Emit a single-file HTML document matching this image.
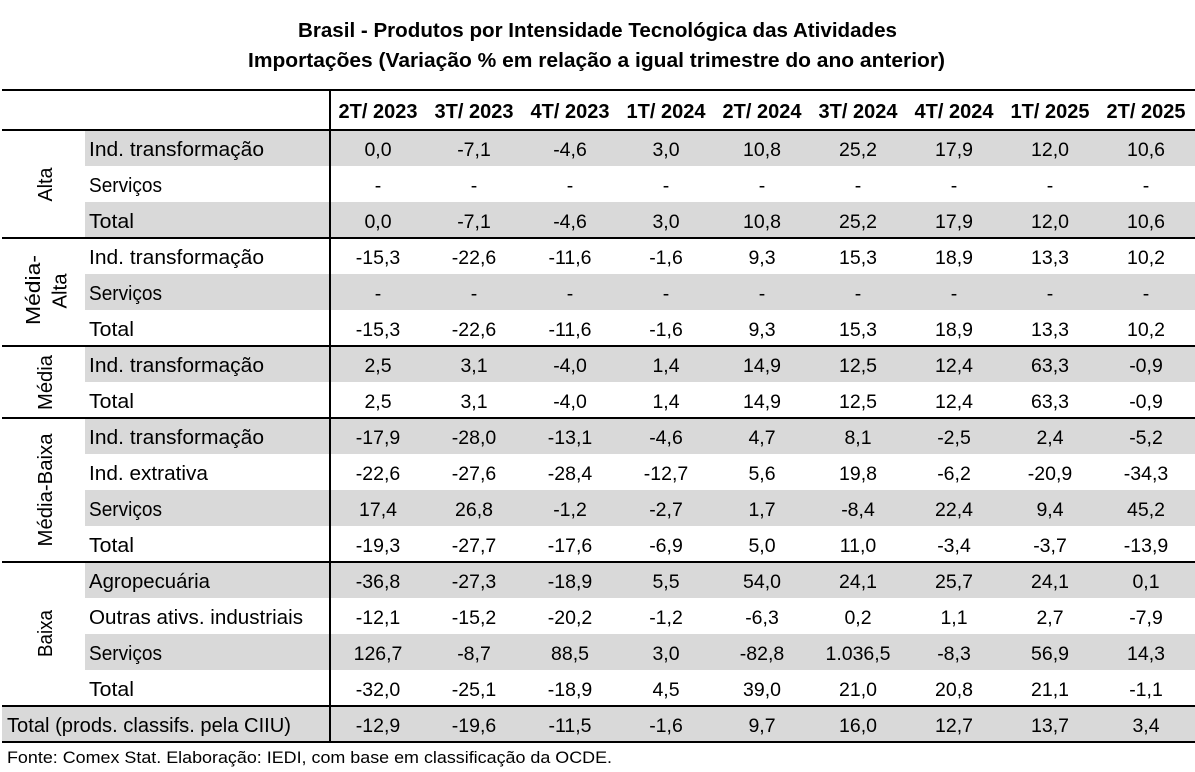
<!DOCTYPE html>
<html>
<head>
<meta charset="utf-8">
<style>
html,body{margin:0;padding:0;background:#fff;}
svg{display:block;}
text{font-family:"Liberation Sans",Arial,sans-serif;fill:#000;}
.t{font-weight:bold;font-size:20px;}
.h{font-weight:bold;font-size:20px;}
.l{font-size:20px;}
.n{font-size:19.5px;}
.f{font-size:17px;}
</style>
</head>
<body>
<svg width="1195" height="772" viewBox="0 0 1195 772" xmlns="http://www.w3.org/2000/svg">
<rect x="0" y="0" width="1195" height="772" fill="#fff"/>
<!-- title -->
<text class="t" x="298" y="37" textLength="599" lengthAdjust="spacingAndGlyphs">Brasil - Produtos por Intensidade Tecnológica das Atividades</text>
<text class="t" x="248" y="67" textLength="697" lengthAdjust="spacingAndGlyphs">Importações (Variação % em relação a igual trimestre do ano anterior)</text>

<!-- gray rows -->
<g fill="#d9d9d9">
<rect x="85" y="130" width="1110" height="36"/>
<rect x="85" y="202" width="1110" height="36"/>
<rect x="85" y="274" width="1110" height="36"/>
<rect x="85" y="346" width="1110" height="36"/>
<rect x="85" y="418" width="1110" height="36"/>
<rect x="85" y="490" width="1110" height="36"/>
<rect x="85" y="562" width="1110" height="36"/>
<rect x="85" y="634" width="1110" height="36"/>
<rect x="2" y="706" width="1193" height="36"/>
</g>

<!-- lines -->
<g fill="#000">
<rect x="2" y="89" width="1193" height="2"/>
<rect x="2" y="129" width="1193" height="2"/>
<rect x="2" y="237" width="1193" height="2"/>
<rect x="2" y="345" width="1193" height="2"/>
<rect x="2" y="417" width="1193" height="2"/>
<rect x="2" y="561" width="1193" height="2"/>
<rect x="2" y="705" width="1193" height="2"/>
<rect x="2" y="741" width="1193" height="2"/>
<rect x="329" y="89" width="2" height="654"/>
</g>

<!-- headers -->
<g class="h" text-anchor="middle">
<text x="378" y="118" textLength="79" lengthAdjust="spacingAndGlyphs">2T/ 2023</text>
<text x="474" y="118" textLength="79" lengthAdjust="spacingAndGlyphs">3T/ 2023</text>
<text x="570" y="118" textLength="79" lengthAdjust="spacingAndGlyphs">4T/ 2023</text>
<text x="666" y="118" textLength="79" lengthAdjust="spacingAndGlyphs">1T/ 2024</text>
<text x="762" y="118" textLength="79" lengthAdjust="spacingAndGlyphs">2T/ 2024</text>
<text x="858" y="118" textLength="79" lengthAdjust="spacingAndGlyphs">3T/ 2024</text>
<text x="954" y="118" textLength="79" lengthAdjust="spacingAndGlyphs">4T/ 2024</text>
<text x="1050" y="118" textLength="79" lengthAdjust="spacingAndGlyphs">1T/ 2025</text>
<text x="1146" y="118" textLength="79" lengthAdjust="spacingAndGlyphs">2T/ 2025</text>
</g>

<!-- group labels (vertical) -->
<g class="l" text-anchor="middle">
<text transform="translate(52,184.5) rotate(-90)" textLength="34" lengthAdjust="spacingAndGlyphs">Alta</text>
<text transform="translate(40,290) rotate(-90)" textLength="70" lengthAdjust="spacingAndGlyphs">Média-</text>
<text transform="translate(66.5,291) rotate(-90)" textLength="35" lengthAdjust="spacingAndGlyphs">Alta</text>
<text transform="translate(52,382.5) rotate(-90)" textLength="55" lengthAdjust="spacingAndGlyphs">Média</text>
<text transform="translate(52,490) rotate(-90)" textLength="113" lengthAdjust="spacingAndGlyphs">Média-Baixa</text>
<text transform="translate(52,633.5) rotate(-90)" textLength="47" lengthAdjust="spacingAndGlyphs">Baixa</text>
</g>

<!-- row labels -->
<g class="l">
<text x="89" y="156" textLength="175" lengthAdjust="spacingAndGlyphs">Ind. transformação</text>
<text x="89" y="192" textLength="73" lengthAdjust="spacingAndGlyphs">Serviços</text>
<text x="89" y="228" textLength="45" lengthAdjust="spacingAndGlyphs">Total</text>
<text x="89" y="264" textLength="175" lengthAdjust="spacingAndGlyphs">Ind. transformação</text>
<text x="89" y="300" textLength="73" lengthAdjust="spacingAndGlyphs">Serviços</text>
<text x="89" y="336" textLength="45" lengthAdjust="spacingAndGlyphs">Total</text>
<text x="89" y="372" textLength="175" lengthAdjust="spacingAndGlyphs">Ind. transformação</text>
<text x="89" y="408" textLength="45" lengthAdjust="spacingAndGlyphs">Total</text>
<text x="89" y="444" textLength="175" lengthAdjust="spacingAndGlyphs">Ind. transformação</text>
<text x="89" y="480" textLength="119" lengthAdjust="spacingAndGlyphs">Ind. extrativa</text>
<text x="89" y="516" textLength="73" lengthAdjust="spacingAndGlyphs">Serviços</text>
<text x="89" y="552" textLength="45" lengthAdjust="spacingAndGlyphs">Total</text>
<text x="89" y="588" textLength="121" lengthAdjust="spacingAndGlyphs">Agropecuária</text>
<text x="89" y="624" textLength="214" lengthAdjust="spacingAndGlyphs">Outras ativs. industriais</text>
<text x="89" y="660" textLength="73" lengthAdjust="spacingAndGlyphs">Serviços</text>
<text x="89" y="696" textLength="45" lengthAdjust="spacingAndGlyphs">Total</text>
<text x="7" y="732" textLength="284" lengthAdjust="spacingAndGlyphs">Total (prods. classifs. pela CIIU)</text>
</g>

<!-- numbers -->
<g class="n" text-anchor="middle">
<!-- row 0 -->
<text x="378" y="156">0,0</text><text x="474" y="156">-7,1</text><text x="570" y="156">-4,6</text><text x="666" y="156">3,0</text><text x="762" y="156">10,8</text><text x="858" y="156">25,2</text><text x="954" y="156">17,9</text><text x="1050" y="156">12,0</text><text x="1146" y="156">10,6</text>
<!-- row 1 -->
<text x="378" y="192">-</text><text x="474" y="192">-</text><text x="570" y="192">-</text><text x="666" y="192">-</text><text x="762" y="192">-</text><text x="858" y="192">-</text><text x="954" y="192">-</text><text x="1050" y="192">-</text><text x="1146" y="192">-</text>
<!-- row 2 -->
<text x="378" y="228">0,0</text><text x="474" y="228">-7,1</text><text x="570" y="228">-4,6</text><text x="666" y="228">3,0</text><text x="762" y="228">10,8</text><text x="858" y="228">25,2</text><text x="954" y="228">17,9</text><text x="1050" y="228">12,0</text><text x="1146" y="228">10,6</text>
<!-- row 3 -->
<text x="378" y="264">-15,3</text><text x="474" y="264">-22,6</text><text x="570" y="264">-11,6</text><text x="666" y="264">-1,6</text><text x="762" y="264">9,3</text><text x="858" y="264">15,3</text><text x="954" y="264">18,9</text><text x="1050" y="264">13,3</text><text x="1146" y="264">10,2</text>
<!-- row 4 -->
<text x="378" y="300">-</text><text x="474" y="300">-</text><text x="570" y="300">-</text><text x="666" y="300">-</text><text x="762" y="300">-</text><text x="858" y="300">-</text><text x="954" y="300">-</text><text x="1050" y="300">-</text><text x="1146" y="300">-</text>
<!-- row 5 -->
<text x="378" y="336">-15,3</text><text x="474" y="336">-22,6</text><text x="570" y="336">-11,6</text><text x="666" y="336">-1,6</text><text x="762" y="336">9,3</text><text x="858" y="336">15,3</text><text x="954" y="336">18,9</text><text x="1050" y="336">13,3</text><text x="1146" y="336">10,2</text>
<!-- row 6 -->
<text x="378" y="372">2,5</text><text x="474" y="372">3,1</text><text x="570" y="372">-4,0</text><text x="666" y="372">1,4</text><text x="762" y="372">14,9</text><text x="858" y="372">12,5</text><text x="954" y="372">12,4</text><text x="1050" y="372">63,3</text><text x="1146" y="372">-0,9</text>
<!-- row 7 -->
<text x="378" y="408">2,5</text><text x="474" y="408">3,1</text><text x="570" y="408">-4,0</text><text x="666" y="408">1,4</text><text x="762" y="408">14,9</text><text x="858" y="408">12,5</text><text x="954" y="408">12,4</text><text x="1050" y="408">63,3</text><text x="1146" y="408">-0,9</text>
<!-- row 8 -->
<text x="378" y="444">-17,9</text><text x="474" y="444">-28,0</text><text x="570" y="444">-13,1</text><text x="666" y="444">-4,6</text><text x="762" y="444">4,7</text><text x="858" y="444">8,1</text><text x="954" y="444">-2,5</text><text x="1050" y="444">2,4</text><text x="1146" y="444">-5,2</text>
<!-- row 9 -->
<text x="378" y="480">-22,6</text><text x="474" y="480">-27,6</text><text x="570" y="480">-28,4</text><text x="666" y="480">-12,7</text><text x="762" y="480">5,6</text><text x="858" y="480">19,8</text><text x="954" y="480">-6,2</text><text x="1050" y="480">-20,9</text><text x="1146" y="480">-34,3</text>
<!-- row 10 -->
<text x="378" y="516">17,4</text><text x="474" y="516">26,8</text><text x="570" y="516">-1,2</text><text x="666" y="516">-2,7</text><text x="762" y="516">1,7</text><text x="858" y="516">-8,4</text><text x="954" y="516">22,4</text><text x="1050" y="516">9,4</text><text x="1146" y="516">45,2</text>
<!-- row 11 -->
<text x="378" y="552">-19,3</text><text x="474" y="552">-27,7</text><text x="570" y="552">-17,6</text><text x="666" y="552">-6,9</text><text x="762" y="552">5,0</text><text x="858" y="552">11,0</text><text x="954" y="552">-3,4</text><text x="1050" y="552">-3,7</text><text x="1146" y="552">-13,9</text>
<!-- row 12 -->
<text x="378" y="588">-36,8</text><text x="474" y="588">-27,3</text><text x="570" y="588">-18,9</text><text x="666" y="588">5,5</text><text x="762" y="588">54,0</text><text x="858" y="588">24,1</text><text x="954" y="588">25,7</text><text x="1050" y="588">24,1</text><text x="1146" y="588">0,1</text>
<!-- row 13 -->
<text x="378" y="624">-12,1</text><text x="474" y="624">-15,2</text><text x="570" y="624">-20,2</text><text x="666" y="624">-1,2</text><text x="762" y="624">-6,3</text><text x="858" y="624">0,2</text><text x="954" y="624">1,1</text><text x="1050" y="624">2,7</text><text x="1146" y="624">-7,9</text>
<!-- row 14 -->
<text x="378" y="660">126,7</text><text x="474" y="660">-8,7</text><text x="570" y="660">88,5</text><text x="666" y="660">3,0</text><text x="762" y="660">-82,8</text><text x="858" y="660">1.036,5</text><text x="954" y="660">-8,3</text><text x="1050" y="660">56,9</text><text x="1146" y="660">14,3</text>
<!-- row 15 -->
<text x="378" y="696">-32,0</text><text x="474" y="696">-25,1</text><text x="570" y="696">-18,9</text><text x="666" y="696">4,5</text><text x="762" y="696">39,0</text><text x="858" y="696">21,0</text><text x="954" y="696">20,8</text><text x="1050" y="696">21,1</text><text x="1146" y="696">-1,1</text>
<!-- row 16 -->
<text x="378" y="732">-12,9</text><text x="474" y="732">-19,6</text><text x="570" y="732">-11,5</text><text x="666" y="732">-1,6</text><text x="762" y="732">9,7</text><text x="858" y="732">16,0</text><text x="954" y="732">12,7</text><text x="1050" y="732">13,7</text><text x="1146" y="732">3,4</text>
</g>

<!-- footer -->
<text class="f" x="7" y="763" textLength="605" lengthAdjust="spacingAndGlyphs">Fonte: Comex Stat. Elaboração: IEDI, com base em classificação da OCDE.</text>
</svg>
</body>
</html>
